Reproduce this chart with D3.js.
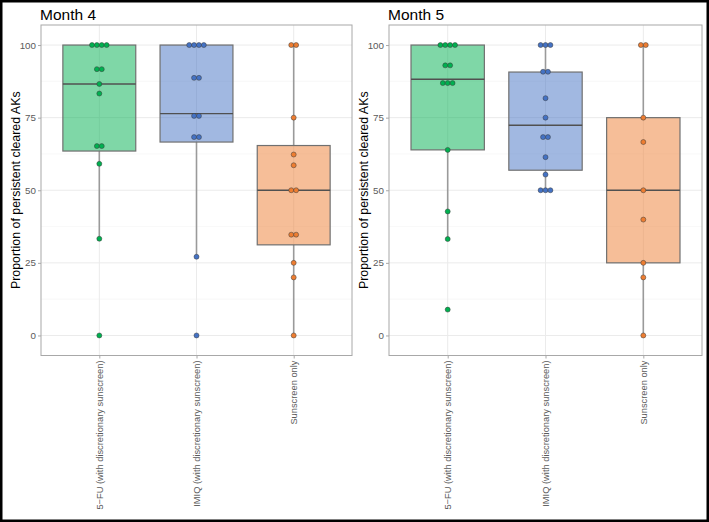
<!DOCTYPE html>
<html><head><meta charset="utf-8">
<script src="https://cdn.jsdelivr.net/npm/d3@7"></script>
<style>body{margin:0;background:#fff}svg{display:block}text{font-family:"Liberation Sans",Arial,sans-serif}</style>
</head><body><svg id="c" width="709" height="522"></svg>
<script>
const categories = ["5\u2212FU (with discretionary sunscreen)", "IMIQ (with discretionary sunscreen)", "Sunscreen only"];
const panelTitles = ["Month 4", "Month 5"];
const yTicks = [0, 25, 50, 75, 100];
const yMinor = [12.5, 37.5, 62.5, 87.5];
const colors = ["#00b050", "#4472c4", "#ed7d31"];
// box stats per category: [whiskerLow, q1, median, q3, whiskerHigh]
const month4Box = [[33.3, 63.5, 86.6, 100, 100], [27.1, 66.6, 76.4, 100, 100], [0, 31.2, 50, 65.4, 100]];
const month5Box = [[33.2, 63.9, 88.2, 100, 100], [50, 56.9, 72.4, 90.7, 100], [0, 25, 50, 75, 100]];
// dots: [value, count]
const month4Dots = [
  [[100,4],[91.7,2],[86.6,1],[83.3,1],[65.2,2],[59.1,1],[33.3,1],[0,1]],
  [[100,4],[88.7,2],[75.6,2],[68.3,2],[27.1,1],[0,1]],
  [[100,2],[75,1],[62.3,1],[58.6,1],[50,2],[34.7,2],[25,1],[20,1],[0,1]]
];
const month5Dots = [
  [[100,4],[93,2],[86.9,3],[63.9,1],[42.7,1],[33.2,1],[8.9,1]],
  [[100,3],[90.8,2],[81.7,1],[75,1],[68.3,2],[61.4,1],[55.4,1],[50,3]],
  [[100,2],[75,1],[66.6,1],[50,1],[39.9,1],[25,1],[20,1],[0,1]]
];
const panels = [
  {title: panelTitles[0], box: month4Box, dots: month4Dots, x0: 41, x1: 352},
  {title: panelTitles[1], box: month5Box, dots: month5Dots, x0: 389, x1: 702}
];
const svg = d3.select("#c");
svg.append("rect").attr("x",1.25).attr("y",1.25).attr("width",706.5).attr("height",519.5)
  .attr("fill","none").attr("stroke","#000").attr("stroke-width",2.5);
const pTop = 25, pBottom = 355.5;
const y = d3.scaleLinear().domain([-6.9, 106.9]).range([pBottom, pTop]);
const dotR = 2.5;
panels.forEach(p => {
  const g = svg.append("g");
  const x = d3.scalePoint().domain(categories).range([p.x0, p.x1]).padding(0.6);
  const bw = x.step() * 0.75;
  // grid
  g.selectAll(".mn").data(yMinor).join("line").attr("x1",p.x0).attr("x2",p.x1)
    .attr("y1",d=>y(d)).attr("y2",d=>y(d)).attr("stroke","#f4f4f4").attr("stroke-width",0.6);
  g.selectAll(".mj").data(yTicks).join("line").attr("x1",p.x0).attr("x2",p.x1)
    .attr("y1",d=>y(d)).attr("y2",d=>y(d)).attr("stroke","#ebebeb").attr("stroke-width",1);
  g.selectAll(".vx").data(categories).join("line").attr("x1",d=>x(d)).attr("x2",d=>x(d))
    .attr("y1",pTop).attr("y2",pBottom).attr("stroke","#ebebeb").attr("stroke-width",1);
  // boxes
  categories.forEach((c, i) => {
    const [lo, q1, md, q3, hi] = p.box[i];
    const cx = x(c);
    g.append("line").attr("x1",cx).attr("x2",cx).attr("y1",y(lo)).attr("y2",y(q1))
      .attr("stroke","#9a9a9a").attr("stroke-width",1.6);
    g.append("line").attr("x1",cx).attr("x2",cx).attr("y1",y(q3)).attr("y2",y(hi))
      .attr("stroke","#9a9a9a").attr("stroke-width",1.6);
    g.append("rect").attr("x",cx-bw/2).attr("width",bw).attr("y",y(q3)).attr("height",y(q1)-y(q3))
      .attr("fill",colors[i]).attr("fill-opacity",0.5).attr("stroke","#707070").attr("stroke-width",1.2);
    g.append("line").attr("x1",cx-bw/2).attr("x2",cx+bw/2).attr("y1",y(md)).attr("y2",y(md))
      .attr("stroke","#505050").attr("stroke-width",1.4);
  });
  // dots
  categories.forEach((c, i) => {
    const cx = x(c);
    p.dots[i].forEach(([v, n]) => {
      for (let k = 0; k < n; k++) {
        g.append("circle").attr("cx", cx + (k - (n-1)/2) * dotR * 1.95).attr("cy", y(v)).attr("r", dotR)
          .attr("fill", colors[i]).attr("stroke", "#3a3a3a").attr("stroke-width", 0.5);
      }
    });
  });
  // panel border
  g.append("rect").attr("x",p.x0).attr("y",pTop).attr("width",p.x1-p.x0).attr("height",pBottom-pTop)
    .attr("fill","none").attr("stroke","#a8a8a8").attr("stroke-width",1);
  // y axis
  const ya = g.append("g").attr("transform",`translate(${p.x0},0)`)
    .call(d3.axisLeft(y).tickValues(yTicks).tickSize(3).tickPadding(2));
  ya.select(".domain").remove();
  ya.selectAll("line").attr("stroke","#a8a8a8");
  ya.selectAll("text").attr("fill","#5a5a5a").style("font-size","9.8px").style("font-family","'Liberation Sans',Arial,sans-serif");
  // x axis
  const xa = g.append("g").attr("transform",`translate(0,${pBottom})`)
    .call(d3.axisBottom(x).tickSize(3).tickPadding(2));
  xa.select(".domain").remove();
  xa.selectAll("line").attr("stroke","#a8a8a8");
  xa.selectAll("text").attr("fill","#5a5a5a").style("font-size","9.3px").style("font-family","'Liberation Sans',Arial,sans-serif")
    .attr("transform","rotate(-90)").attr("text-anchor","end").attr("x",-5).attr("y",0).attr("dy","0.35em");
  // titles
  g.append("text").attr("x",p.x0 - 1).attr("y",20).text(p.title).style("font-size","15.5px").attr("fill","#000");
  g.append("text").attr("transform",`translate(${p.x0 - 21},${(pTop+pBottom)/2}) rotate(-90)`)
    .attr("text-anchor","middle").style("font-size","12.4px").attr("fill","#000")
    .text("Proportion of persistent cleared AKs");
});
</script></body></html>
